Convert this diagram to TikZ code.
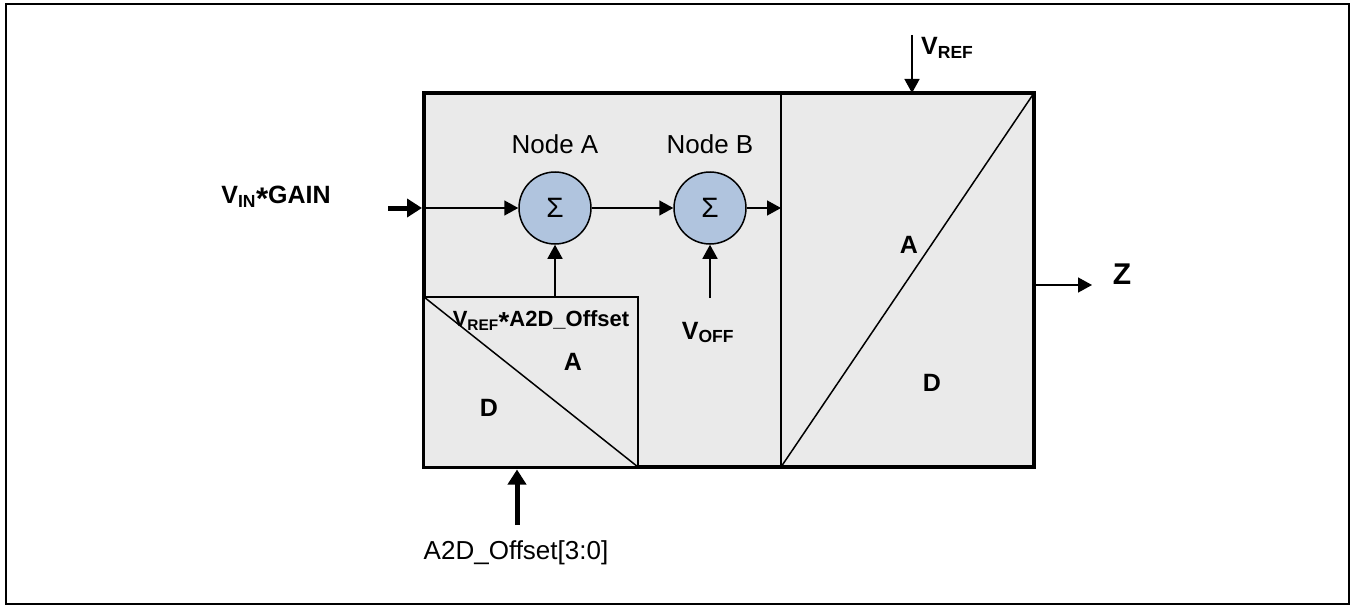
\documentclass[tikz,border=0pt]{standalone}
\usepackage{fontspec}
\setmainfont{Liberation Sans}
\usepackage{tikz}
\usetikzlibrary{arrows.meta,positioning,calc}
\definecolor{BoxGray}{HTML}{EAEAEA}
\definecolor{SumBlue}{HTML}{B0C4DE}
\newcommand\mult{\raisebox{-0.22em}{\scalebox{1.25}{*}}}
\tikzset{
 adcbox/.style={draw=black,fill=BoxGray,line width=4.5pt,inner sep=0pt,outer sep=0pt,
   minimum width=610pt,minimum height=374pt},
 dacbox/.style={draw=black,fill=BoxGray,line width=1.5pt,inner sep=0pt,outer sep=0pt,
   minimum width=214pt,minimum height=170pt},
 sumnode/.style={circle,draw=black,fill=SumBlue,line width=1.5pt,minimum size=72pt,
   inner sep=0pt,font=\fontsize{28}{30}\selectfont},
 thin/.style={line width=1.5pt},
 arr/.style={-{Triangle[length=14pt,width=15pt]},line width=1.5pt},
 fatarr/.style={-{Triangle[length=15pt,width=18pt]},line width=5pt},
 lbl/.style={font=\fontsize{25}{30}\selectfont\bfseries,inner sep=0pt},
 caption/.style={font=\fontsize{26}{30}\selectfont,inner sep=0pt}
}
\begin{document}
\begin{tikzpicture}[x=1pt,y=-1pt]
\useasboundingbox (0,0) rectangle (1351,607);
\draw[line width=2pt] (6,4) rectangle (1349,604);
% converter body
\node[adcbox] (adc) at (729,280) {};
\node[dacbox] (dac) at (531,382) {};
\draw[thin] (dac.north west) -- (dac.south east);
\coordinate (divtop) at (781,93);
\draw[thin] (divtop) -- (divtop |- adc.south);
\draw[thin] (divtop |- adc.south) -- (adc.north east);
% summing nodes
\node[sumnode] (sumA) at (555,208) {Σ};
\node[sumnode] (sumB) at (710,208) {Σ};
\node[caption,above=17pt of sumA] (capA) {Node A};
\node[caption,above=17pt of sumB] (capB) {Node B};
% signal path
\coordinate (vin) at (388,208);
\draw[fatarr,shorten >=2pt] (vin) -- (vin -| adc.west);
\draw[arr] (vin -| adc.west) -- (sumA.west);
\draw[arr] (sumA.east) -- (sumB.west);
\draw[arr] (sumB.east) -- (sumB.east -| divtop);
\draw[arr] (dac.north -| sumA) -- (sumA.south);
\coordinate (voff) at (710,298);
\draw[arr] (voff) -- (sumB.south);
\coordinate (vref) at (912,35);
\draw[arr] (vref) -- (vref |- adc.north);
\coordinate (zout) at (1092,285);
\draw[arr] (zout -| adc.east) -- (zout);
\coordinate (a2d) at (517,525);
\draw[fatarr,shorten >=2.5pt] (a2d) -- (a2d |- adc.south);
% labels
\node[lbl] (vinl) at (276,198) {V\textsubscript{IN}\mult GAIN};
\node[lbl,anchor=base west] (vrefl) at (921,55) {V\textsubscript{REF}};
\node[lbl,anchor=base] (voffl) at (708,339) {V\textsubscript{OFF}};
\node[lbl,font=\fontsize{30}{32}\selectfont\bfseries] (zl) at (1122,274) {Z};
\node[lbl,font=\fontsize{22}{26}\selectfont\bfseries] (dacin) at (541,321) {V\textsubscript{REF}\mult A2D\_Offset};
\node[lbl] (dacA) at (573,362) {A};
\node[lbl] (dacD) at (489,408) {D};
\node[lbl] (adcA) at (909,245) {A};
\node[lbl] (adcD) at (932,383) {D};
\node[caption] (a2dl) at (516,553) {A2D\_Offset[3:0]};
\end{tikzpicture}
\end{document}
